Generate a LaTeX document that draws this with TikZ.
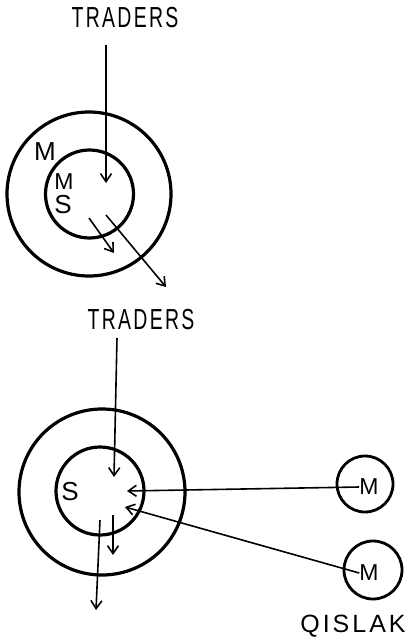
\documentclass[tikz,border=0pt]{standalone}
\usepackage{fontspec}
\usepackage{graphicx}
\setmainfont{Liberation Sans}
\usetikzlibrary{arrows.meta}
\begin{document}
\begin{tikzpicture}[x=1pt,y=-1pt,
  ring/.style={circle,draw,line width=3.2pt,inner sep=0pt},
  caps/.style={inner sep=0pt,font=\fontsize{29}{29}\selectfont\addfontfeature{LetterSpace=12}},
  letter/.style={inner sep=0pt,font=\fontsize{26}{26}\selectfont},
  small/.style={inner sep=0pt,font=\fontsize{23}{23}\selectfont},
  flow/.style={line width=1.6pt,-{Straight Barb[length=8pt,width=11pt,line width=1.6pt]}}
]
\useasboundingbox (0,0) rectangle (414,642);

% ---------- top diagram ----------
\node[caps] (tradersA) at (125,18) {\scalebox{0.67}[1]{TRADERS}};
\node[ring,minimum size=164pt] (outerA) at (89,194) {};
\node[ring,minimum size=88pt] (innerA) at (89.5,194) {};
\node[letter] (mOuterA) at (45,152) {M};
\node[small] (mInnerA) at (64,182) {M};
\node[letter] (sInnerA) at (63,205) {S};
\coordinate (startA) at (106,45);
\coordinate (inA) at (106,183);
\coordinate (outA1s) at (89,218);
\coordinate (outA1e) at (114,253);
\coordinate (outA2s) at (106,215);
\coordinate (outA2e) at (166,287);
\draw[flow] (startA) -- (inA);
\draw[flow] (outA1s) -- (outA1e);
\draw[flow] (outA2s) -- (outA2e);

% ---------- bottom diagram ----------
\node[caps] (tradersB) at (141,320) {\scalebox{0.67}[1]{TRADERS}};
\node[ring,minimum size=166pt] (outerB) at (102,492) {};
\node[ring,minimum size=88pt] (innerB) at (100,491) {};
\node[letter] (sB) at (70,492) {S};
\node[ring,minimum size=56pt,line width=2.8pt] (m1) at (365,484) {};
\node[small] (m1l) at (369,487) {M};
\node[ring,minimum size=58pt,line width=2.8pt] (m2) at (373,570) {};
\node[small] (m2l) at (369,573) {M};
\node[inner sep=0pt,font=\fontsize{25}{25}\selectfont\addfontfeature{LetterSpace=12}] (qislak) at (353,626) {QISLAK};
\coordinate (startB) at (117,338);
\coordinate (inB) at (114,477);
\coordinate (inB1) at (127,491);
\coordinate (inB2) at (125,507);
\coordinate (outB1s) at (113,515);
\coordinate (outB1e) at (113,555);
\coordinate (outB2s) at (100,520);
\coordinate (outB2e) at (96,610);
\draw[flow] (startB) -- (inB);
\draw[flow] (m1l.west) -- (inB1);
\draw[flow] (m2l.west) -- (inB2);
\draw[flow] (outB1s) -- (outB1e);
\draw[flow] (outB2s) -- (outB2e);
\end{tikzpicture}
\end{document}
